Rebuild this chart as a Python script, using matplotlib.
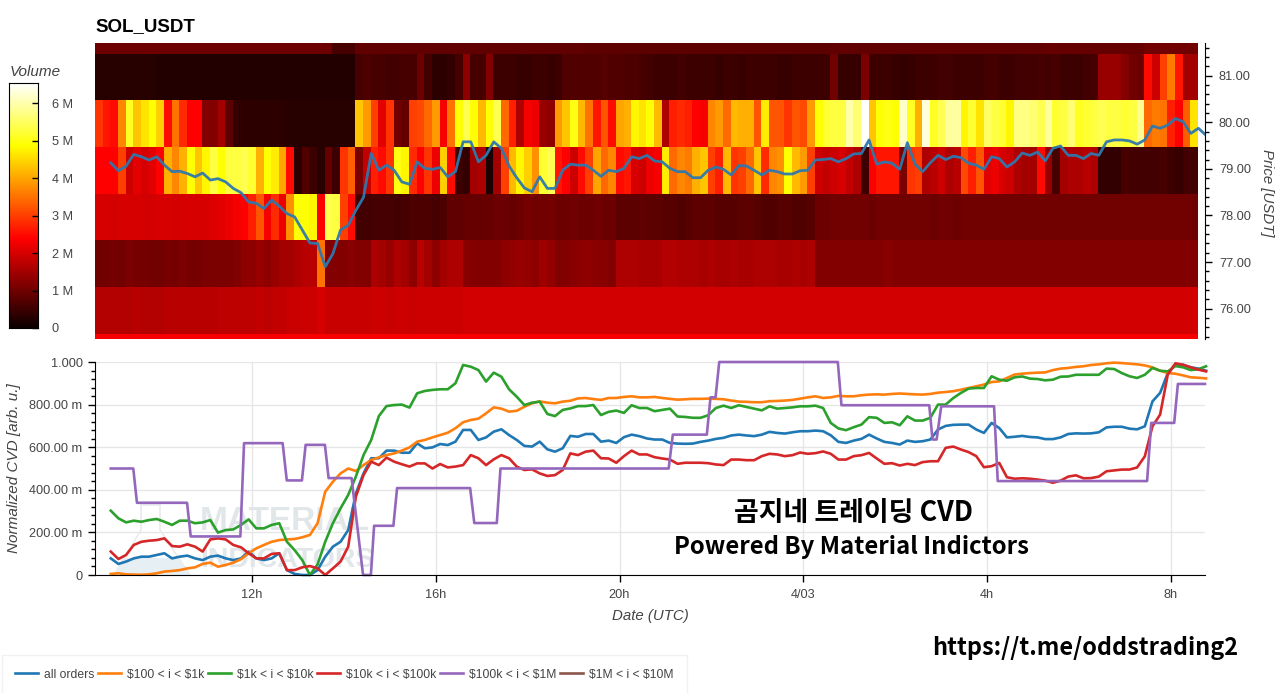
import matplotlib

matplotlib.use('Agg')

import matplotlib.pyplot as plt
import matplotlib.ticker as ticker
import numpy as np
from matplotlib.lines import Line2D
from matplotlib.patches import Polygon

plt.rcParams['font.family'] = ['Liberation Sans', 'DejaVu Sans']
plt.rcParams['text.parse_math'] = False

W, H = 1280, 693
TEXT_GRAY = '#444444'

# heatmap: volume in millions, one list per 1 USDT price bin, 144 ten minute columns
row_82 = [
    .95, .95, .95, .95, .95, .95, .95, .95, .95, .95, .95, .95, .95, .95, .95, .95,
    .95, .95, .95, .95, .95, .95, .95, .95, .95, .95, .95, .95, .95, .95, .95, .6,
    .6, .6, .85, .85, .85, .85, .85, .85, .85, .85, .85, .85, .85, .85, .85, .85,
    .85, .85, .85, .85, .85, .85, .85, .85, .85, .85, .85, .85, .85, .85, .85, .85,
    .8, .8, .8, .8, .8, .8, .8, .8, .8, .8, .8, .8, .8, .8, .8, .8,
    .8, .8, .8, .8, .8, .8, .8, .8, .8, .8, .8, .8, .8, .8, .8, .8,
    .85, .85, .85, .85, .85, .85, .85, .85, .85, .85, .85, .85, .85, .85, .85, .85,
    .85, .85, .85, .85, .85, .85, .85, .85, .85, .85, .85, .85, .9, .9, .9, .9,
    .9, .9, .9, .9, .9, .9, .9, .9, .9, 1., 1., 1., 1., 1., 1., 1.,
]
row_81 = [
    .3, .3, .3, .3, .3, .3, .3, .3, .25, .25, .25, .25, .25, .25, .25, .25,
    .25, .25, .25, .25, .25, .25, .25, .25, .25, .25, .25, .25, .25, .25, .25, .25,
    .25, .25, .6, .65, .6, .6, .55, .55, .6, .6, .95, .55, .35, .35, .4, .6,
    1.3, .6, .6, 1.2, .5, .5, .5, .45, .45, .5, .5, .45, .5, .7, .7, .7,
    .7, .7, .75, .7, .7, .65, .65, .6, .55, .5, .5, .5, .55, .5, .5, .5,
    .5, .45, .5, .5, .45, .5, .5, .5, .5, .45, .45, .5, .5, .5, .5, .5,
    1., .45, .45, .45, 1.1, .5, .5, .5, .45, .4, .45, .5, .5, .5, .55, .55,
    .5, .5, .5, .5, .55, .55, .5, .5, .55, .55, .55, .6, .55, .6, .5, .5,
    .5, .55, .6, 1.4, 1.4, 1.4, 1.2, 1., .95, 2.5, 1.9, 3., 3.6, 2.6, 1.5, 1.5,
]
row_80 = [
    2.9, 2.6, 2.5, 3.7, 5.1, 4.3, 4.6, 4.9, 4.4, 2.5, 3.5, 2.8, 2.4, 2.4, 1.2, 1.2,
    1.5, .8, .4, .35, .35, .35, .35, .35, .35, .3, .3, .3, .3, .3, .3, .3,
    .3, .3, 4.3, 3.9, 3., 2.1, 2.9, 1., .9, 3., 3.1, 3.4, 3.9, 2.3, 3.5, 4.9,
    5.4, 4.9, 4.2, 4.9, 5.4, 3.4, 2.7, 1.6, 2.3, 2.2, 1.4, 1.3, 3.9, 4.3, 5., 4.2,
    3.5, 2.6, 3.2, 2.5, 4., 4.1, 4.8, 4.6, 4.9, 4.2, 1.6, 2.7, 2.8, 2.7, 2.4, 2.3,
    3.7, 3.9, 3.4, 4.2, 4.1, 4.1, 3.2, 4.7, 3.2, 3.2, 2.9, 3.2, 3.1, 3.9, 4.9, 5.2,
    5.3, 5.3, 6., 5.6, 6.5, 4.3, 4.9, 5., 4.9, 6.2, 5.1, 4.1, 6.3, 5.1, 5.4, 5.9,
    5.9, 4.8, 5.2, 4.6, 5.5, 5.3, 5.2, 4.8, 5.7, 5.7, 5.6, 5.4, 5.9, 5.2, 5.3, 5.6,
    5.1, 5.2, 5.3, 5.4, 5.3, 5.3, 5.2, 5.3, 5.8, 3.4, 3.6, 3.5, 2.7, 2.4, 3.3, 4.6,
]
row_79 = [
    2.4, 2.4, 2.4, 3., 1.9, 2.1, 2., 2.1, 2.4, 4.1, 3.7, 4.1, 4.9, 4.3, 4.8, 5.3,
    4.9, 5.3, 5.3, 5.4, 5.2, 4.1, 4.9, 4.7, 4., 2.5, .35, .7, .5, .3, .9, .5,
    2.9, 3.3, 1.1, 1.8, 2.7, 2.5, 2.9, 5., 4.8, 2.8, 2.4, 2.9, 2.2, 4.4, 2.5, .5,
    .4, 1.5, 1.6, .2, 1.5, 3., 4.2, 4.8, 4.4, 3.8, 5.2, 5.4, 2.6, 2.4, 1.9, 2.5,
    3., 4., 3.4, 3.7, 2.5, 2.6, 2., 1.9, 2.2, 2.3, 4.7, 3.4, 3.7, 3.6, 4.1, 4.3,
    3., 2.7, 4.2, 2.9, 3., 3.4, 4.3, 2.8, 3.7, 3.8, 4.9, 4.2, 3.9, 3., 1.9, 1.8,
    1.9, 2., 1.8, 1.6, .5, 2.4, 2.6, 2.6, 2.6, 1.1, 2.9, 3., 1.6, 1.7, 1.9, 1.6,
    1.7, 3.1, 2.7, 3.2, 2.1, 2.2, 2., 1.9, 1.6, 1.5, 1.5, 2.5, 1.4, .6, 1.5, 1.6,
    1.6, 1.7, 1.6, .4, .4, .4, .6, .55, .55, .55, .55, .6, .5, .45, .55, .55,
]
row_78 = [
    2., 2., 1.95, 2., 2., 2., 1.95, 1.95, 2., 2., 1.95, 2., 2., 2., 2., 2.05,
    2.1, 2.2, 2.3, 2.4, 2.7, 3.2, 2.3, 2.8, 2.2, 3.8, 4.9, 4.9, 4.8, 2.4, 5.4, 5.3,
    3., 2.5, .55, .55, .6, .6, .6, .55, .6, .65, .65, .65, .6, .65, .85, .85,
    .9, .9, .9, .9, .95, .95, .9, .95, 1.05, 1., 1., 1.05, .95, .95, 1., .95,
    .95, 1., .95, .95, .8, .8, .8, .85, .8, .8, .75, .75, .7, .75, .8, .8,
    .8, .75, .75, .75, .8, .8, .75, .7, .7, .75, .75, .7, .7, .75, .95, .95,
    1., 1., 1., 1., 1., .95, 1., 1., 1., 1., 1., 1., 1., .95, 1., 1.,
    .95, 1., 1., 1., 1., 1., 1., 1., 1., 1., 1., 1., 1., 1., 1., 1.,
    1., 1., 1., 1., 1., 1., 1., 1., 1., 1., 1., 1., 1., 1., 1., 1.,
]
row_77 = [
    1., 1., 1.05, 1., 1.1, 1.05, 1.05, 1., 1., 1.05, 1.05, 1.1, 1.05, 1.05, 1.1, 1.1,
    1.1, 1.1, 1.15, 1.3, 1.3, 1.4, 1.3, 1.4, 1.5, 1.5, 1.6, 1.7, 1.7, 3.5, 1.2, 1.2,
    1.2, 1.25, 1.2, 1.2, 1.6, 1.5, 1.4, 1.6, 1.5, 1.3, 1.7, 1.5, 1.3, 1.5, 1.6, 1.6,
    1.25, 1.2, 1.2, 1.2, 1.2, 1.3, 1.35, 1.4, 1.35, 1.3, 1.45, 1.35, 1.15, 1.2, 1.25, 1.3,
    1.3, 1.25, 1.25, 1.2, 1.6, 1.6, 1.6, 1.55, 1.55, 1.55, 1.65, 1.65, 1.6, 1.6, 1.6, 1.55,
    1.6, 1.55, 1.55, 1.6, 1.55, 1.55, 1.6, 1.6, 1.6, 1.55, 1.55, 1.6, 1.55, 1.6, 1.2, 1.2,
    1.2, 1.2, 1.2, 1.2, 1.2, 1.2, 1.2, 1.25, 1.2, 1.2, 1.2, 1.2, 1.2, 1.2, 1.2, 1.2,
    1.2, 1.2, 1.2, 1.2, 1.2, 1.2, 1.2, 1.2, 1.2, 1.2, 1.2, 1.2, 1.2, 1.2, 1.2, 1.2,
    1.2, 1.2, 1.2, 1.2, 1.2, 1.2, 1.2, 1.2, 1.2, 1.2, 1.2, 1.2, 1.2, 1.2, 1.2, 1.2,
]
row_76 = [
    1.65, 1.65, 1.65, 1.65, 1.65, 1.7, 1.65, 1.65, 1.65, 1.7, 1.7, 1.7, 1.7, 1.7, 1.7, 1.7,
    1.75, 1.75, 1.75, 1.75, 1.75, 1.8, 1.75, 1.8, 1.8, 1.85, 1.85, 1.9, 1.9, 2., 1.85, 1.85,
    1.85, 1.85, 1.85, 1.85, 1.9, 1.9, 1.85, 1.9, 1.9, 1.85, 1.9, 1.9, 1.9, 1.9, 1.9, 1.9,
    1.95, 1.95, 1.95, 1.95, 1.95, 1.95, 1.95, 1.95, 1.95, 1.95, 1.95, 1.95, 1.95, 1.95, 1.95, 1.95,
    1.95, 1.95, 1.95, 1.95, 1.95, 1.95, 1.95, 1.95, 1.95, 1.95, 1.95, 1.95, 1.95, 1.95, 1.95, 1.95,
    1.95, 1.95, 1.95, 1.95, 1.95, 1.95, 1.95, 1.95, 1.95, 1.95, 1.95, 1.95, 1.95, 1.95, 1.95, 1.95,
    1.95, 1.95, 1.95, 1.95, 1.95, 1.95, 1.95, 1.95, 1.95, 1.95, 1.95, 1.95, 1.95, 1.95, 1.95, 1.95,
    1.95, 1.95, 1.95, 1.95, 1.95, 1.95, 1.95, 1.95, 1.95, 1.95, 1.95, 1.95, 1.95, 1.95, 1.95, 1.95,
    1.95, 1.95, 1.95, 1.95, 1.95, 1.95, 1.95, 1.95, 1.95, 1.95, 1.95, 1.95, 1.95, 1.95, 1.95, 1.95,
]
row_75 = [
    2.35, 2.35, 2.35, 2.35, 2.35, 2.35, 2.35, 2.35, 2.35, 2.35, 2.35, 2.35, 2.35, 2.35, 2.35, 2.35,
    2.35, 2.35, 2.35, 2.35, 2.35, 2.35, 2.35, 2.35, 2.35, 2.35, 2.35, 2.35, 2.35, 2.35, 2.35, 2.35,
    2.35, 2.35, 2.35, 2.35, 2.35, 2.35, 2.35, 2.35, 2.35, 2.35, 2.35, 2.35, 2.35, 2.35, 2.35, 2.35,
    2.35, 2.35, 2.35, 2.35, 2.35, 2.35, 2.35, 2.35, 2.35, 2.35, 2.35, 2.35, 2.35, 2.35, 2.35, 2.35,
    2.35, 2.35, 2.35, 2.35, 2.35, 2.35, 2.35, 2.35, 2.35, 2.35, 2.35, 2.35, 2.35, 2.35, 2.35, 2.35,
    2.35, 2.35, 2.35, 2.35, 2.35, 2.35, 2.35, 2.35, 2.35, 2.35, 2.35, 2.35, 2.35, 2.35, 2.35, 2.35,
    2.35, 2.35, 2.35, 2.35, 2.35, 2.35, 2.35, 2.35, 2.35, 2.35, 2.35, 2.35, 2.35, 2.35, 2.35, 2.35,
    2.35, 2.35, 2.35, 2.35, 2.35, 2.35, 2.35, 2.35, 2.35, 2.35, 2.35, 2.35, 2.35, 2.35, 2.35, 2.35,
    2.35, 2.35, 2.35, 2.35, 2.35, 2.35, 2.35, 2.35, 2.35, 2.35, 2.35, 2.35, 2.35, 2.35, 2.35, 2.35,
]

price = [
    79.13, 78.96, 79.06, 79.31, 79.26, 79.19, 79.26, 79.08, 78.94, 78.95, 78.90, 78.83,
    78.91, 78.76, 78.79, 78.72, 78.58, 78.49, 78.29, 78.26, 78.15, 78.33, 78.20, 78.04,
    77.97, 77.69, 77.41, 77.40, 76.90, 77.18, 77.69, 77.79, 78.11, 78.39, 79.33, 78.97,
    79.08, 78.97, 78.72, 78.67, 79.15, 79.01, 78.99, 79.03, 78.83, 78.94, 79.58, 79.58,
    79.15, 79.29, 79.58, 79.44, 79.06, 78.81, 78.59, 78.51, 78.83, 78.58, 78.58, 78.97,
    79.10, 79.08, 79.08, 78.97, 78.84, 78.97, 78.94, 79.01, 79.26, 79.22, 79.29, 79.17,
    79.15, 79.01, 78.94, 78.94, 78.81, 78.81, 78.97, 79.04, 78.99, 78.87, 79.07, 79.06,
    78.97, 78.87, 78.97, 78.94, 78.89, 78.89, 78.96, 78.97, 79.19, 79.20, 79.22, 79.15,
    79.22, 79.32, 79.33, 79.62, 79.10, 79.15, 79.12, 78.99, 79.56, 79.10, 78.94, 79.13,
    79.29, 79.20, 79.27, 79.24, 79.12, 79.08, 78.99, 79.26, 79.22, 79.04, 79.15, 79.34,
    79.29, 79.36, 79.17, 79.44, 79.49, 79.29, 79.29, 79.22, 79.33, 79.29, 79.58, 79.62,
    79.62, 79.60, 79.53, 79.62, 79.92, 79.87, 79.94, 80.08, 80.01, 79.76, 79.87, 79.72,
]

cvd_all = [
    .078, .052, .063, .078, .086, .086, .094, .102, .078, .086, .091, .078,
    .070, .086, .091, .078, .070, .078, .110, .078, .070, .078, .102, .023,
    .005, 0, 0, .023, .086, .133, .156, .211, .383, .477, .548, .548,
    .584, .584, .574, .574, .618, .595, .599, .615, .61, .626, .681, .681,
    .634, .646, .673, .684, .657, .634, .606, .603, .626, .59, .579, .595,
    .653, .649, .662, .662, .626, .631, .62, .647, .659, .652, .641, .636,
    .636, .62, .617, .616, .617, .625, .631, .639, .644, .655, .659, .655,
    .652, .659, .672, .667, .664, .67, .675, .675, .678, .675, .656, .625,
    .62, .631, .639, .659, .641, .625, .62, .6125, .631, .625, .628, .636,
    .683, .70, .705, .706, .706, .683, .667, .714, .69, .646, .649, .653,
    .648, .646, .638, .638, .646, .662, .665, .664, .665, .67, .693, .696,
    .696, .687, .684, .698, .815, .855, .948, .987, .987, .975, .969, .959,
]
cvd_100_1k = [
    .005, .008, .003, .002, .001, .003, .008, .016, .019, .023, .031, .036,
    .052, .058, .039, .047, .058, .074, .102, .125, .141, .156, .164, .167,
    .169, .177, .188, .243, .391, .438, .477, .50, .488, .516, .54, .552,
    .563, .571, .584, .599, .626, .634, .646, .657, .668, .689, .717, .728,
    .734, .759, .787, .781, .767, .771, .79, .806, .815, .809, .806, .814,
    .818, .829, .831, .826, .822, .831, .831, .836, .839, .834, .834, .836,
    .831, .827, .823, .825, .827, .827, .828, .827, .825, .819, .814, .813,
    .811, .811, .816, .817, .819, .822, .828, .834, .839, .831, .834, .841,
    .839, .839, .844, .847, .848, .847, .85, .852, .85, .848, .847, .85,
    .856, .859, .863, .87, .878, .886, .894, .906, .909, .925, .941, .945,
    .948, .95, .951, .962, .969, .972, .977, .98, .986, .989, .994, .997,
    .995, .992, .989, .984, .975, .959, .948, .945, .937, .928, .926, .923,
]
cvd_1k_10k = [
    .302, .266, .247, .255, .250, .258, .263, .250, .235, .255, .255, .243,
    .247, .258, .199, .211, .214, .235, .261, .219, .219, .235, .243, .156,
    .117, .070, 0, .05, .156, .243, .313, .376, .462, .563, .634, .746,
    .793, .798, .80, .786, .853, .864, .869, .872, .872, .90, .986, .978,
    .962, .908, .95, .931, .872, .837, .798, .809, .814, .756, .746, .775,
    .782, .793, .793, .798, .751, .766, .772, .761, .797, .784, .784, .769,
    .775, .781, .744, .742, .738, .738, .75, .784, .795, .784, .797, .789,
    .781, .773, .792, .781, .784, .787, .792, .792, .795, .784, .714, .688,
    .68, .694, .706, .741, .738, .714, .717, .703, .745, .725, .725, .738,
    .80, .80, .831, .855, .875, .878, .878, .933, .917, .912, .928, .932,
    .922, .92, .914, .917, .931, .932, .94, .94, .94, .94, .969, .967,
    .948, .933, .925, .94, .972, .959, .956, .981, .975, .962, .966, .98,
]
cvd_10k_100k = [
    .110, .075, .094, .141, .156, .161, .164, .172, .136, .133, .144, .133,
    .110, .167, .172, .167, .141, .130, .102, .078, .078, .099, .102, .023,
    .023, .036, .042, .031, 0, .031, .063, .133, .368, .469, .532, .516,
    .551, .532, .52, .509, .524, .524, .50, .521, .505, .509, .516, .563,
    .548, .516, .543, .563, .548, .509, .493, .496, .477, .465, .469, .493,
    .571, .563, .579, .584, .548, .547, .527, .558, .584, .566, .566, .553,
    .547, .542, .522, .527, .527, .527, .525, .519, .516, .542, .542, .539,
    .539, .558, .569, .566, .558, .5625, .575, .569, .572, .58, .569, .542,
    .542, .558, .5625, .573, .547, .522, .525, .514, .522, .516, .53, .534,
    .534, .597, .603, .589, .577, .558, .506, .511, .526, .459, .452, .454,
    .452, .448, .443, .433, .443, .462, .468, .454, .455, .462, .487, .491,
    .495, .495, .505, .557, .698, .753, .941, .994, .987, .975, .964, .956,
]
# purple series moves in steps, so it keeps its own time stamps (hours from 00:00 on 4/02)
cvd_100k_1m_t = [
    8.93, 9.42, 9.50, 10.59, 10.67, 11.75, 11.83, 12.67, 12.76, 13.09, 13.17, 13.59, 13.67,
    14.17, 14.42, 14.59, 14.66, 15.08, 15.16, 16.75, 16.84, 17.33, 17.41, 21.07, 21.16,
    21.90, 21.98, 22.09, 22.17, 24.75, 24.83, 26.74, 26.81, 26.90, 27.0, 28.15, 28.23,
    31.48, 31.57, 32.07, 32.15, 32.74,
]
cvd_100k_1m = [
    .50, .50, .339, .339, .181, .181, .619, .619, .444, .444, .611, .611, .455,
    .455, 0, 0, .231, .231, .408, .408, .244, .244, .50, .50, .659,
    .659, .834, .834, 1., 1., .797, .797, .636, .636, .792, .792, .441,
    .441, .714, .714, .897, .897,
]

series_labels = ['all orders', '$100 < i < $1k', '$1k < i < $10k', '$10k < i < $100k',
                 '$100k < i < $1M', '$1M < i < $10M']
series_colors = ['#1f77b4', '#ff7f0e', '#2ca02c', '#d62728', '#9467bd', '#8c564b']

price_ticks = [76, 77, 78, 79, 80, 81]
price_tick_labels = ['76.00', '77.00', '78.00', '79.00', '80.00', '81.00']
cvd_ticks = [0, .2, .4, .6, .8, 1]
cvd_tick_labels = ['0', '200.00 m', '400.00 m', '600.00 m', '800.00 m', '1.000']
time_ticks = [12, 16, 20, 24, 28, 32]
time_tick_labels = ['12h', '16h', '20h', '4/03', '4h', '8h']
volume_ticks = [0, 1, 2, 3, 4, 5, 6]
volume_tick_labels = ['0', '1 M', '2 M', '3 M', '4 M', '5 M', '6 M']

VOLUME_MAX = 6.54
X_MIN, X_MAX = 8.587, 32.74
PRICE_EDGES = [75.35, 75.45, 76.46, 77.47, 78.46, 79.47, 80.47, 81.46, 81.7]
TICK_SIZE = 9.2


def px_axes(fig, left, top, right, bottom):
    return fig.add_axes([left / W, 1 - bottom / H, (right - left) / W, (bottom - top) / H])


def fig_xy(x, y):
    return x / W, 1 - y / H


def plot_heatmap(fig):
    ax = px_axes(fig, 95, 43, 1205, 339)
    volume = np.array([row_75, row_76, row_77, row_78, row_79, row_80, row_81, row_82])
    x_edges = X_MIN + np.arange(volume.shape[1] + 1) / 6
    ax.pcolormesh(x_edges, PRICE_EDGES, volume, cmap='hot', vmin=0, vmax=VOLUME_MAX,
                  shading='flat', antialiased=False)
    t = 8.93 + np.arange(len(price)) / 6
    ax.plot(t, price, color='#2f78ad', lw=2.0, alpha=0.95, solid_joinstyle='round')
    ax.set_xlim(X_MIN, X_MAX)
    ax.set_ylim(PRICE_EDGES[0], PRICE_EDGES[-1])
    ax.set_xticks([])
    for side in ['top', 'left', 'bottom']:
        ax.spines[side].set_visible(False)
    ax.yaxis.tick_right()
    ax.set_yticks(price_ticks, price_tick_labels)
    ax.yaxis.set_minor_locator(ticker.MultipleLocator(0.2))
    ax.tick_params(axis='y', which='major', length=5, width=1, labelsize=TICK_SIZE,
                   labelcolor=TEXT_GRAY, pad=5)
    ax.tick_params(axis='y', which='minor', length=3, width=1)
    fig.text(*fig_xy(1267, 193), 'Price [USDT]', rotation=-90, style='italic', fontsize=10.8,
             color=TEXT_GRAY, ha='center', va='center')
    fig.text(*fig_xy(95, 27), 'SOL_USDT', fontweight='bold', fontsize=13.5, color='black',
             ha='left', va='center')


def plot_colorbar(fig):
    ax = px_axes(fig, 9, 83, 38, 328)
    gradient = np.linspace(0, VOLUME_MAX, 256).reshape(-1, 1)
    ax.imshow(gradient, cmap='hot', vmin=0, vmax=VOLUME_MAX, origin='lower', aspect='auto',
              extent=[0, 1, 0, VOLUME_MAX])
    ax.set_xticks([])
    ax.yaxis.tick_right()
    ax.set_yticks(volume_ticks, volume_tick_labels)
    ax.tick_params(axis='y', direction='in', length=4, width=1, labelsize=TICK_SIZE,
                   labelcolor=TEXT_GRAY, pad=10)
    fig.text(*fig_xy(10, 72), 'Volume', style='italic', fontsize=11, color=TEXT_GRAY,
             ha='left', va='center')


def draw_watermark(fig, ax):
    flask = [fig_xy(*p) for p in [(141, 505), (160, 505), (160, 530), (190, 575), (114, 575), (141, 530)]]
    liquid = [fig_xy(*p) for p in [(124, 558), (178, 558), (190, 575), (114, 575)]]
    ax.add_patch(Polygon(flask, closed=True, fill=False, ec='#e8ebed', lw=1.2,
                         transform=fig.transFigure, zorder=1.2))
    ax.add_patch(Polygon(liquid, closed=True, fc='#e6eff3', ec='none',
                         transform=fig.transFigure, zorder=1.2))
    for text, y, size in [('MATERIAL', 522, 24), ('INDICATORS', 560, 20.5)]:
        ax.text(*fig_xy(200, y), text, transform=fig.transFigure, fontsize=size, fontweight='bold',
                color='#e1e6e9', ha='left', va='center', zorder=1.2, clip_on=True)


def plot_cvd(fig):
    ax = px_axes(fig, 95, 362, 1205, 575)
    t = 8.93 + np.arange(len(cvd_all)) / 6
    series = [cvd_all, cvd_100_1k, cvd_1k_10k, cvd_10k_100k]
    handles = []
    for values, label, color in zip(series, series_labels, series_colors):
        handles.append(ax.plot(t, values, color=color, lw=1.9, label=label, clip_on=False)[0])
    handles.append(ax.plot(cvd_100k_1m_t, cvd_100k_1m, color=series_colors[4], lw=1.9,
                           label=series_labels[4], clip_on=False)[0])
    handles.append(Line2D([], [], color=series_colors[5], lw=1.9, label=series_labels[5]))

    draw_watermark(fig, ax)

    ax.set_xlim(X_MIN, X_MAX)
    ax.set_ylim(0, 1)
    ax.set_xticks(time_ticks, time_tick_labels)
    ax.set_yticks(cvd_ticks, cvd_tick_labels)
    ax.yaxis.set_minor_locator(ticker.MultipleLocator(0.04))
    ax.tick_params(axis='x', which='major', length=5, width=1, labelsize=TICK_SIZE,
                   labelcolor=TEXT_GRAY, pad=5)
    ax.tick_params(axis='y', which='major', length=5, width=1, labelsize=TICK_SIZE,
                   labelcolor=TEXT_GRAY, pad=4)
    ax.tick_params(axis='y', which='minor', length=3, width=1)
    ax.grid(True, which='major', color='#e6e6e6', lw=1)
    ax.set_axisbelow(True)
    ax.spines['top'].set_visible(False)
    ax.spines['right'].set_visible(False)

    fig.text(*fig_xy(14, 468), 'Normalized CVD [arb. u.]', rotation=90, style='italic',
             fontsize=11, color=TEXT_GRAY, ha='center', va='center')
    fig.text(*fig_xy(650, 616), 'Date (UTC)', style='italic', fontsize=10.8, color=TEXT_GRAY,
             ha='center', va='center')

    legend = fig.legend(handles=handles, loc='lower left', bbox_to_anchor=fig_xy(2, 694), ncol=6,
                        fontsize=8.7, frameon=True, fancybox=False, edgecolor='#eeeeee',
                        handlelength=1.9, handletextpad=0.5, columnspacing=0.3,
                        borderpad=1.1, borderaxespad=0, labelcolor=TEXT_GRAY)
    legend.get_frame().set_linewidth(1)


def add_overlay_text(fig):
    kr_font = ['Noto Sans CJK KR', 'DejaVu Sans']
    fig.text(*fig_xy(854, 513), '곰지네 트레이딩 CVD', family=kr_font, fontweight='bold',
             fontsize=19.4, color='black', ha='center', va='center')
    fig.text(*fig_xy(851, 547), 'Powered By Material Indictors', family=kr_font, fontweight='bold',
             fontsize=17.2, color='black', ha='center', va='center')
    fig.text(*fig_xy(1085, 648), 'https://t.me/oddstrading2', family=kr_font, fontweight='bold',
             fontsize=16.9, color='black', ha='center', va='center')


fig = plt.figure(figsize=(W / 100, H / 100), dpi=100)
plot_heatmap(fig)
plot_colorbar(fig)
plot_cvd(fig)
add_overlay_text(fig)
fig.savefig('out.png', dpi=100)
